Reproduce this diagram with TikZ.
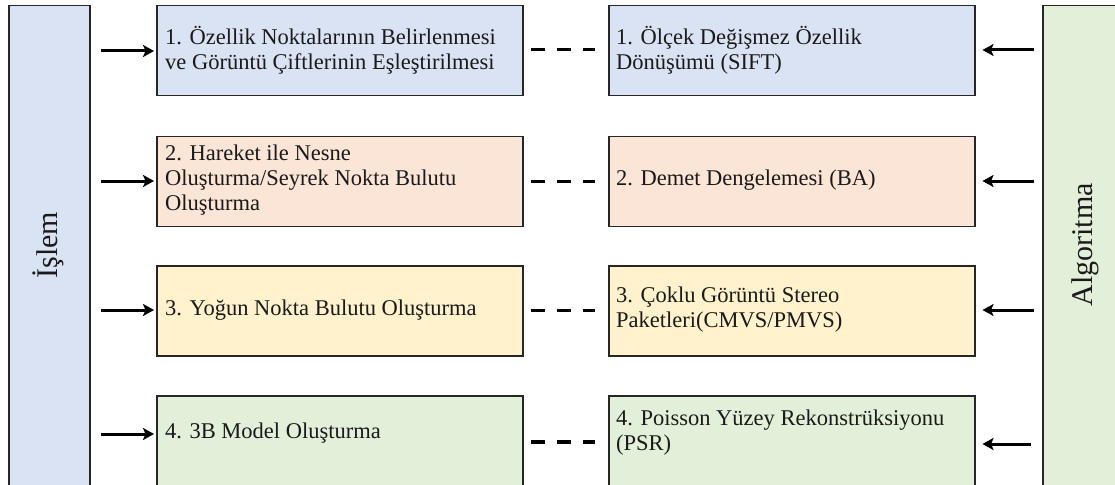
\documentclass[tikz,border=0pt]{standalone}
\usepackage{fontspec}
\setmainfont{Liberation Serif}
\usetikzlibrary{arrows.meta}
\definecolor{cblue}{HTML}{DAE3F3}
\definecolor{cpeach}{HTML}{FBE5D6}
\definecolor{cyellow}{HTML}{FFF2CC}
\definecolor{cgreen}{HTML}{E2F0D9}
\definecolor{cborder}{HTML}{262626}
\definecolor{ctext}{HTML}{1A1A1A}
\begin{document}
\begin{tikzpicture}[x=1pt,y=-1pt,
  box/.style={draw=cborder, line width=1.5pt, anchor=north west, inner sep=0pt, minimum width=366pt, minimum height=90pt},
  side/.style={draw=cborder, line width=1.5pt, anchor=north west, inner sep=0pt, minimum width=81pt, minimum height=495pt},
  txt/.style={anchor=west, align=left, text=ctext, font=\fontsize{22.5}{25}\selectfont, inner sep=0pt},
  stxt/.style={rotate=90, text=ctext, font=\fontsize{30}{32}\selectfont, inner sep=0pt},
  arr/.style={line width=3pt, -{Stealth[length=11pt,width=12pt,inset=2.5pt]}},
  dsh/.style={line width=3.2pt, dash pattern=on 14pt off 12pt, shorten <=7pt, shorten >=13pt}]
\useasboundingbox (0,0) rectangle (1115,484);
% side boxes
\node[side, fill=cblue] (L) at (8,5) {};
\node[side, fill=cgreen] (R) at (1042,5) {};
\node[stxt] (Lt) at (48,245) {İşlem};
\node[stxt] (Rt) at (1085,245) {Algoritma};
% row boxes
\node[box, fill=cblue] (b1l) at (156,5) {};
\node[box, fill=cblue] (b1r) at (608,5) {};
\node[box, fill=cpeach] (b2l) at (156,135.5) {};
\node[box, fill=cpeach] (b2r) at (608,135.5) {};
\node[box, fill=cyellow] (b3l) at (156,265) {};
\node[box, fill=cyellow] (b3r) at (608,265) {};
\node[box, fill=cgreen] (b4l) at (156,395) {};
\node[box, fill=cgreen] (b4r) at (608,395) {};
% texts
\node[txt] (t1l) at (165,50) {1. Özellik Noktalarının Belirlenmesi\\ve Görüntü Çiftlerinin Eşleştirilmesi};
\node[txt] (t1r) at (616,50) {1. Ölçek Değişmez Özellik\\Dönüşümü (SIFT)};
\node[txt] (t2l) at (165,180.5) {2. Hareket ile Nesne\\Oluşturma/Seyrek Nokta Bulutu\\Oluşturma};
\node[txt] (t2r) at (616,180.5) {2. Demet Dengelemesi (BA)};
\node[txt] (t3l) at (165,310) {3. Yoğun Nokta Bulutu Oluşturma};
\node[txt] (t3r) at (616,310) {3. Çoklu Görüntü Stereo\\Paketleri(CMVS/PMVS)};
\node[txt] (t4l) at (165,433) {4. 3B Model Oluşturma};
\node[txt] (t4r) at (616,433) {4. Poisson Yüzey Rekonstrüksiyonu\\(PSR)};
% arrow starts
\coordinate (a1l) at (101,51);
\coordinate (a2l) at (101,181);
\coordinate (a3l) at (101,310);
\coordinate (a4l) at (101,434);
\coordinate (a1r) at (1034,50);
\coordinate (a2r) at (1034,181);
\coordinate (a3r) at (1034,310);
\coordinate (a4r) at (1031,444);
\foreach \i in {1,2,3,4}{
  \draw[arr, shorten >=2pt] (a\i l) -- (a\i l -| b\i l.west);
  \draw[arr, shorten >=7pt] (a\i r) -- (a\i r -| b\i r.east);
}
% dashed links
\draw[dsh] (b1l.east |- 0,49.5) -- (b1r.west |- 0,49.5);
\draw[dsh] (b2l.east) -- (b2r.west);
\draw[dsh] (b3l.east |- 0,310.5) -- (b3r.west |- 0,310.5);
\draw[dsh] (b4l.east |- 0,442) -- (b4r.west |- 0,442);
\end{tikzpicture}
\end{document}
